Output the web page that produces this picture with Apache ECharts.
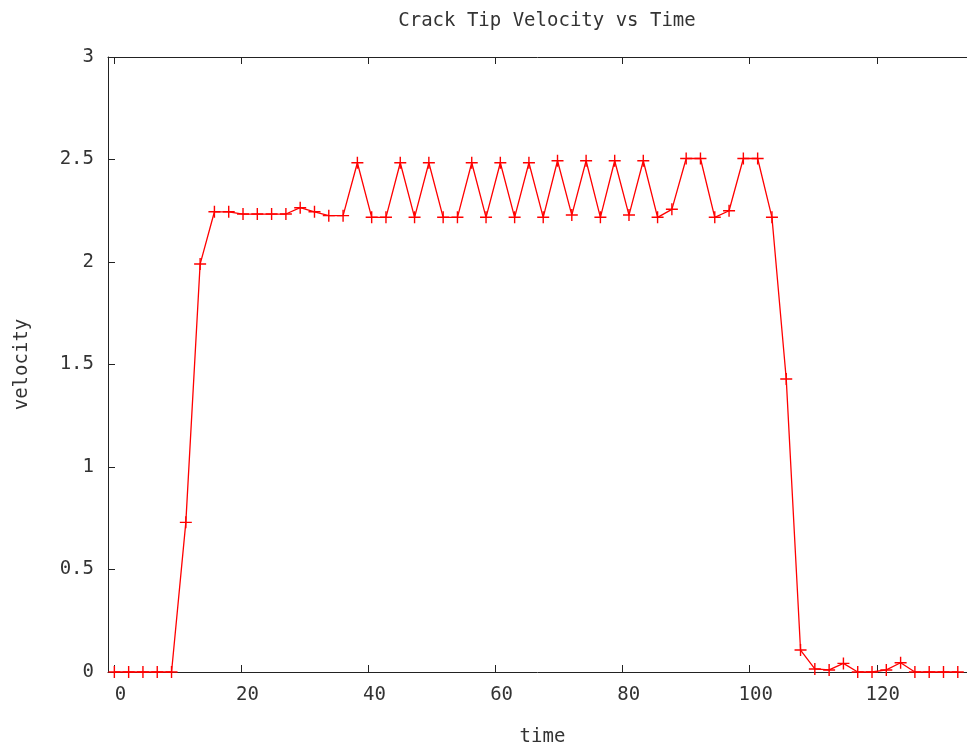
<!DOCTYPE html>
<html>
<head>
<meta charset="utf-8">
<script src="https://cdn.jsdelivr.net/npm/echarts@6/dist/echarts.min.js"></script>
<style>
html,body{margin:0;padding:0;background:#fff;}
#chart{width:967px;height:745px;}
</style>
</head>
<body>
<div id="chart"></div>
<script>
const titleText = 'Crack Tip Velocity vs Time';
const xName = 'time';
const yName = 'velocity';
const xTicks = [0, 20, 40, 60, 80, 100, 120];
const time = [0, 2.25, 4.5, 6.75, 9, 11.25, 13.5, 15.75, 18, 20.25, 22.5, 24.75, 27, 29.25, 31.5, 33.75, 36, 38.25, 40.5, 42.75, 45, 47.25, 49.5, 51.75, 54, 56.25, 58.5, 60.75, 63, 65.25, 67.5, 69.75, 72, 74.25, 76.5, 78.75, 81, 83.25, 85.5, 87.75, 90, 92.25, 94.5, 96.75, 99, 101.25, 103.5, 105.75, 108, 110.25, 112.5, 114.75, 117, 119.25, 121.5, 123.75, 126, 128.25, 130.5, 132.75];
const velocity = [0, 0, 0, 0, 0, 0.73, 1.99, 2.245, 2.245, 2.234, 2.234, 2.234, 2.234, 2.265, 2.245, 2.226, 2.226, 2.484, 2.218, 2.218, 2.484, 2.218, 2.484, 2.218, 2.218, 2.484, 2.218, 2.484, 2.218, 2.484, 2.218, 2.494, 2.229, 2.494, 2.218, 2.494, 2.229, 2.494, 2.218, 2.257, 2.505, 2.505, 2.218, 2.25, 2.505, 2.505, 2.218, 1.429, 0.107, 0.015, 0.01, 0.042, 0, 0, 0.01, 0.045, 0, 0, 0, 0];

const FONT = 'DejaVu Sans Mono';
const TXT = '#333';
const points = time.map((t, i) => [t, velocity[i]]);
const plus = 'path://M0,5.3 L5.3,5.3 L5.3,0 L6.7,0 L6.7,5.3 L12,5.3 L12,6.7 L6.7,6.7 L6.7,12 L5.3,12 L5.3,6.7 L0,6.7 Z';

const axisLineStyle = { color: '#222', width: 1 };
const chart = echarts.init(document.getElementById('chart'), null, { renderer: 'canvas' });
chart.setOption({
  animation: false,
  backgroundColor: '#fff',
  title: {
    text: titleText,
    left: 542,
    textAlign: 'center',
    top: 7,
    textStyle: { fontFamily: FONT, fontSize: 19, fontWeight: 'normal', color: TXT }
  },
  grid: { left: 108, right: 0, top: 57, bottom: 73, outerBoundsMode: 'none' },
  xAxis: [
    {
      type: 'value', position: 'bottom', min: -1, max: 134.2,
      name: xName, nameLocation: 'middle', nameGap: 56,
      nameTextStyle: { fontFamily: FONT, fontSize: 19, color: TXT, padding: [0, 0, 0, 10] },
      axisLine: { show: true, onZero: false, lineStyle: axisLineStyle },
      axisTick: { show: true, inside: true, length: 7, lineStyle: axisLineStyle, customValues: xTicks },
      axisLabel: { show: true, margin: 14, fontFamily: FONT, fontSize: 19, color: TXT, customValues: xTicks, padding: [0, 0, 0, 12] },
      splitLine: { show: false }
    },
    {
      type: 'value', position: 'top', min: -1, max: 134.2,
      axisLine: { show: true, onZero: false, lineStyle: axisLineStyle },
      axisTick: { show: true, inside: true, length: 7, lineStyle: axisLineStyle, customValues: xTicks },
      axisLabel: { show: false },
      splitLine: { show: false }
    }
  ],
  yAxis: {
    type: 'value', min: 0, max: 3, interval: 0.5,
    name: yName, nameLocation: 'middle', nameGap: 76, nameRotate: 90,
    nameTextStyle: { fontFamily: FONT, fontSize: 19, color: TXT },
    axisLine: { show: true, onZero: false, lineStyle: axisLineStyle },
    axisTick: { show: true, inside: true, length: 7, lineStyle: axisLineStyle },
    axisLabel: { margin: 14, fontFamily: FONT, fontSize: 19, color: TXT },
    splitLine: { show: false }
  },
  series: [{
    type: 'line',
    xAxisIndex: 0,
    data: points,
    symbol: plus,
    symbolSize: 12,
    showSymbol: true,
    showAllSymbol: true,
    clip: false,
    lineStyle: { color: '#ff0000', width: 1.3 },
    itemStyle: { color: '#ff0000' }
  }]
});
</script>
</body>
</html>
